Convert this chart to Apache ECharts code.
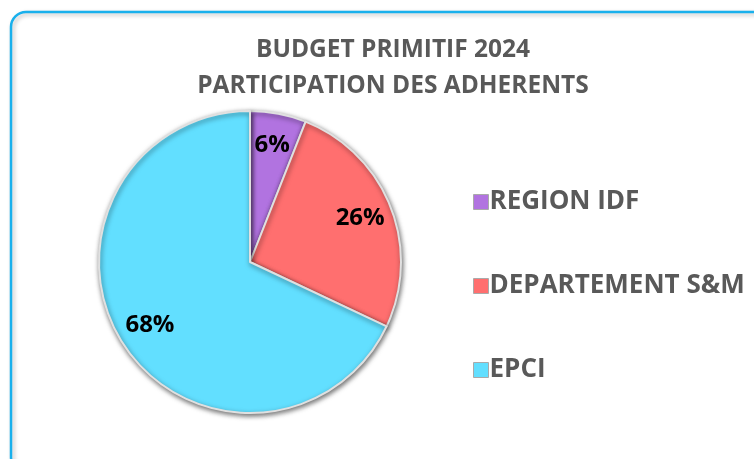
<!DOCTYPE html>
<html>
<head>
<meta charset="utf-8">
<script src="https://cdn.jsdelivr.net/npm/echarts@6/dist/echarts.min.js"></script>
<style>
  html, body { margin: 0; padding: 0; background: #fff; }
  #main { width: 754px; height: 459px; }
</style>
</head>
<body>
<div id="main"></div>
<script>
// 数据
var categories = ['REGION IDF', 'DEPARTEMENT S&M', 'EPCI'];
var values = [6, 26, 68];
var colors = ['#b173e0', '#ff6f6f', '#62dfff'];
var titleLines = ['BUDGET PRIMITIF 2024', 'PARTICIPATION DES ADHERENTS'];

var myChart = echarts.init(document.getElementById('main'));

var pieData = categories.map(function (name, i) {
  return { name: name, value: values[i], itemStyle: { color: colors[i] } };
});

var option = {
  animation: false,
  graphic: [
    {
      type: 'rect',
      shape: { x: 11, y: 12, width: 770, height: 460, r: 15 },
      style: {
        fill: '#fff',
        stroke: '#19b0ec',
        lineWidth: 2.5,
        shadowColor: 'rgba(0,0,0,0.25)',
        shadowBlur: 4,
        shadowOffsetX: 2,
        shadowOffsetY: 2
      },
      z: -10
    }
  ],
  title: {
    text: titleLines.join('\n'),
    left: 388,
    textAlign: 'center',
    top: 27,
    textStyle: {
      fontFamily: 'Open Sans',
      fontWeight: 'bold',
      fontSize: 24.5,
      color: '#595959',
      lineHeight: 36
    }
  },
  legend: {
    orient: 'vertical',
    left: 468,
    top: 182,
    itemGap: 54,
    itemWidth: 15,
    itemHeight: 15,
    icon: 'rect',
    itemStyle: { borderColor: '#aaa', borderWidth: 1 },
    textStyle: {
      fontFamily: 'Open Sans',
      fontWeight: 'bold',
      fontSize: 26,
      lineHeight: 30,
      color: '#595959',
      padding: [0, 0, 0, -4]
    },
    data: categories
  },
  series: [
    {
      type: 'pie',
      center: [250, 262],
      radius: 151,
      startAngle: 90,
      clockwise: true,
      silent: true,
      label: { show: false },
      labelLine: { show: false },
      itemStyle: {
        borderColor: '#e0e0e0',
        borderWidth: 2,
        shadowColor: 'rgba(0,0,0,0.55)',
        shadowBlur: 5,
        shadowOffsetX: 1,
        shadowOffsetY: 2
      },
      data: pieData
    },
    {
      // 只放标签
      type: 'pie',
      center: [250, 262],
      radius: [80, 151],
      startAngle: 90,
      clockwise: true,
      silent: true,
      legendHoverLink: false,
      itemStyle: { color: 'rgba(0,0,0,0)' },
      label: {
        show: true,
        position: 'inside',
        formatter: '{d}%',
        fontFamily: 'Open Sans',
        fontWeight: 'bold',
        fontSize: 24,
        color: '#000'
      },
      labelLine: { show: false },
      data: categories.map(function (name, i) {
        return { name: name + ' ', value: values[i] };
      })
    }
  ]
};

myChart.setOption(option);
</script>
</body>
</html>
